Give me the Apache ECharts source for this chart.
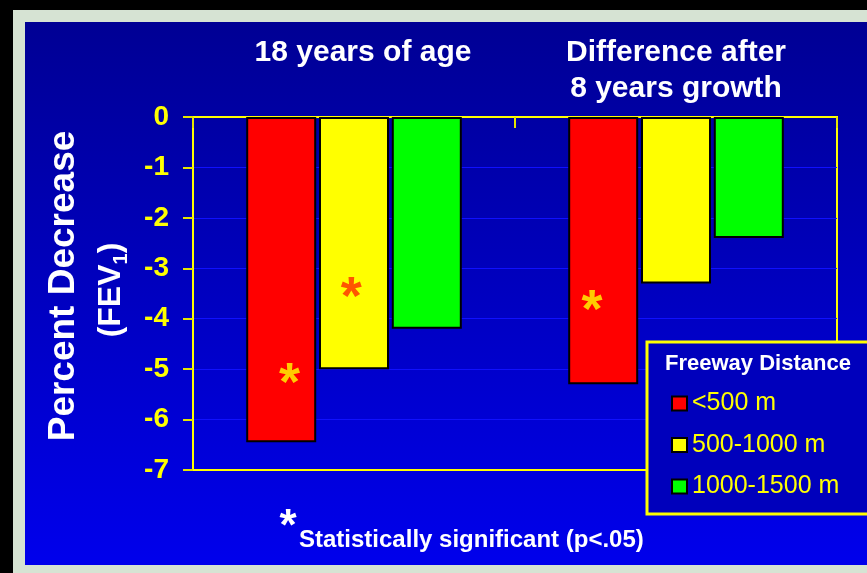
<!DOCTYPE html>
<html>
<head>
<meta charset="utf-8">
<script src="https://cdn.jsdelivr.net/npm/echarts@6/dist/echarts.min.js"></script>
<style>
  body { margin: 0; background: #000; }
  #wrap { position: relative; width: 867px; height: 573px; background: #000; overflow: hidden; }
  #frame { position: absolute; left: 13px; top: 10px; width: 854px; height: 563px; background: #d6e3d3; }
  #panel { position: absolute; left: 25px; top: 22px; width: 842px; height: 543px;
           background: linear-gradient(to bottom, #000094, #0000ec); }
  #main { position: absolute; left: 0; top: 0; width: 867px; height: 573px; }
</style>
</head>
<body>
<div id="wrap">
  <div id="frame"></div>
  <div id="panel"></div>
  <div id="main"></div>
</div>
<script>
// data
var categories = ['18 years of age', 'Difference after\n8 years growth'];
var seriesNames = ['<500 m', '500-1000 m', '1000-1500 m'];
var under500 = [-6.45, -5.3];
var from500to1000 = [-5.0, -3.3];
var from1000to1500 = [-4.2, -2.4];
// which bars carry the significance star
var starUnder500 = [true, true];
var star500to1000 = [true, false];
var star1000to1500 = [false, false];
var yTicks = [0, -1, -2, -3, -4, -5, -6, -7];

var colors = ['#ff0000', '#ffff00', '#00ff00'];
var starColors = ['#ffcc00', '#ff5500', '#ffcc00'];
// where the star sits inside each bar (percent of the bar box)
var starPlaces = [
    [['62%', '79%'], ['34%', '69%']],
    [['46%', '68%'], null],
    [null, null]
];

var font = 'Liberation Sans, Arial, sans-serif';

function makeData(values, stars, s) {
    return values.map(function (v, i) {
        var item = { value: v };
        if (stars[i]) {
            item.label = {
                show: true,
                formatter: '*',
                position: starPlaces[s][i],
                offset: [0, 11],
                align: 'center',
                verticalAlign: 'middle',
                color: starColors[s],
                fontSize: 54,
                fontWeight: 'bold',
                fontFamily: font
            };
        }
        return item;
    });
}

var seriesValues = [under500, from500to1000, from1000to1500];
var seriesStars = [starUnder500, star500to1000, star1000to1500];

var series = seriesNames.map(function (name, s) {
    return {
        name: name,
        type: 'bar',
        barWidth: 70,
        barGap: '4%',
        data: makeData(seriesValues[s], seriesStars[s], s),
        itemStyle: {
            color: colors[s],
            borderColor: '#000',
            borderWidth: 2
        },
        label: { show: false }
    };
});

var myChart = echarts.init(document.getElementById('main'));

var option = {
    backgroundColor: 'transparent',
    textStyle: { fontFamily: font },
    animation: false,
    grid: {
        left: 193,
        top: 117,
        right: 30,
        bottom: 103,
        show: true,
        borderColor: '#ffff00',
        borderWidth: 2
    },
    xAxis: {
        type: 'category',
        position: 'top',
        data: categories,
        axisLine: { lineStyle: { color: '#ffff00', width: 2 } },
        axisTick: { show: true, inside: true, length: 11, lineStyle: { color: '#e6e600', width: 2 } },
        axisLabel: {
            interval: 0,
            color: '#fff',
            fontSize: 30,
            fontWeight: 'bold',
            lineHeight: 36,
            verticalAlign: 'top',
            margin: 82,
            formatter: function (v, i) {
                return i === 0 ? '{s|' + v + '}' : v;
            },
            rich: {
                s: { color: '#fff', fontSize: 30, fontWeight: 'bold', lineHeight: 36, padding: [0, 0, 0, 18] }
            }
        }
    },
    yAxis: {
        type: 'value',
        min: yTicks[yTicks.length - 1],
        max: yTicks[0],
        interval: 1,
        axisLine: { show: true, lineStyle: { color: '#ffff00', width: 2 } },
        axisTick: { show: true, length: 10, lineStyle: { color: '#e6e600', width: 2 } },
        axisLabel: {
            color: '#ffff00',
            fontSize: 28,
            fontWeight: 'bold',
            margin: 24
        },
        splitLine: {
            show: true,
            showMinLine: false,
            showMaxLine: false,
            lineStyle: { color: '#1010ff', width: 1 }
        }
    },
    legend: {
        data: seriesNames,
        orient: 'vertical',
        left: 666,
        top: 385,
        z: 120,
        icon: 'rect',
        itemWidth: 15,
        itemHeight: 14,
        itemGap: 14.5,
        itemStyle: { borderColor: '#000', borderWidth: 2 },
        textStyle: { color: '#ffff00', fontSize: 25, lineHeight: 27, fontFamily: font }
    },
    graphic: [
        {
            type: 'rect',
            z: 100,
            shape: { x: 647, y: 342, width: 260, height: 172 },
            style: { fill: '#0000bc', stroke: '#ffff00', lineWidth: 3 }
        },
        {
            type: 'text',
            z: 110,
            x: 665,
            y: 364,
            style: {
                text: 'Freeway Distance',
                fill: '#fff',
                font: 'bold 22px ' + font,
                textVerticalAlign: 'middle'
            }
        },
        {
            type: 'text',
            z: 110,
            x: 64,
            y: 286,
            rotation: Math.PI / 2,
            style: {
                text: 'Percent Decrease',
                fill: '#fff',
                font: 'bold 37px ' + font,
                textAlign: 'center',
                textVerticalAlign: 'middle'
            }
        },
        {
            type: 'text',
            z: 110,
            x: 111,
            y: 290,
            rotation: Math.PI / 2,
            style: {
                text: '{a|(FEV}{b|1}{a|)}',
                fill: '#fff',
                textAlign: 'center',
                textVerticalAlign: 'middle',
                rich: {
                    a: { fill: '#fff', fontSize: 32, fontWeight: 'bold', lineHeight: 40, fontFamily: font },
                    b: { fill: '#fff', fontSize: 20, fontWeight: 'bold', lineHeight: 20, verticalAlign: 'bottom', fontFamily: font }
                }
            }
        },
        {
            type: 'text',
            z: 110,
            x: 288,
            y: 528,
            style: {
                text: '*',
                fill: '#fff',
                font: 'bold 44px ' + font,
                textAlign: 'center',
                textVerticalAlign: 'middle'
            }
        },
        {
            type: 'text',
            z: 110,
            x: 299,
            y: 540,
            style: {
                text: 'Statistically significant (p<.05)',
                fill: '#fff',
                font: 'bold 24px ' + font,
                textVerticalAlign: 'middle'
            }
        }
    ],
    series: series
};

myChart.setOption(option);
</script>
</body>
</html>
